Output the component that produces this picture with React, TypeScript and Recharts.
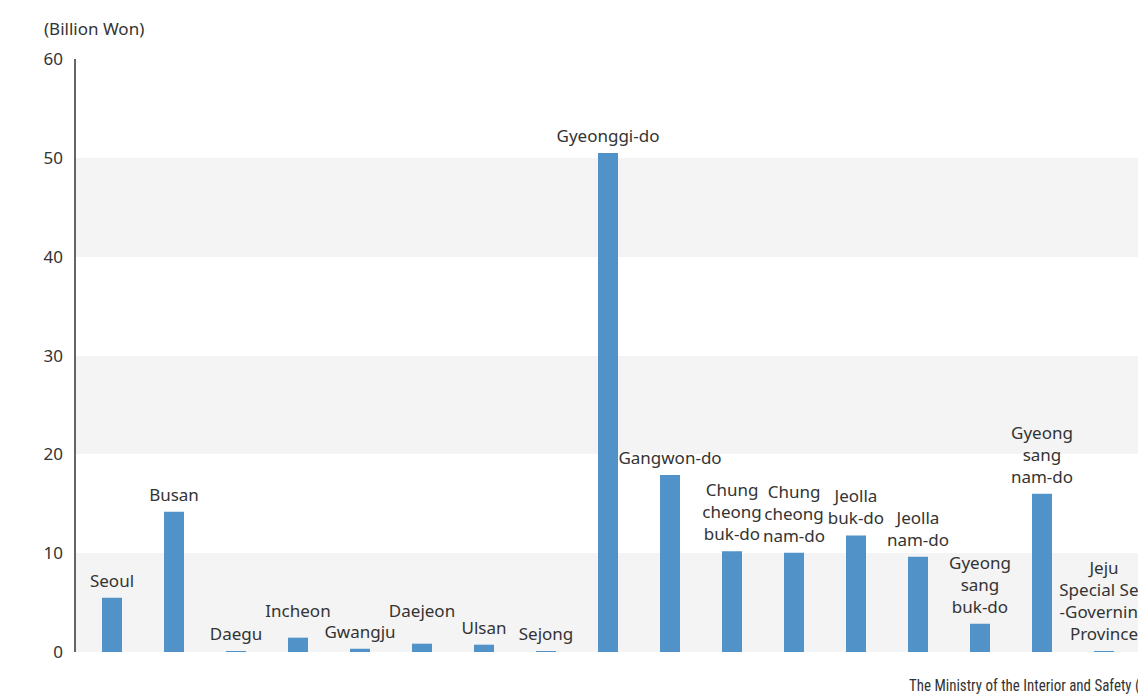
import React from 'react';
import { BarChart, Bar, XAxis, YAxis, CartesianGrid, LabelList } from 'recharts';

const categories = [
  'Seoul', 'Busan', 'Daegu', 'Incheon', 'Gwangju', 'Daejeon', 'Ulsan', 'Sejong',
  'Gyeonggi-do', 'Gangwon-do', 'Chungcheongbuk-do', 'Chungcheongnam-do',
  'Jeollabuk-do', 'Jeollanam-do', 'Gyeongsangbuk-do', 'Gyeongsangnam-do', 'Jeju',
];
const values = [5.5, 14.2, 0.1, 1.45, 0.33, 0.84, 0.74, 0.1, 50.5, 17.9, 10.2, 10.05, 11.8, 9.65, 2.86, 16.0, 0.1];
const labelLines: string[][] = [
  ['Seoul'], ['Busan'], ['Daegu'], ['Incheon'], ['Gwangju'], ['Daejeon'], ['Ulsan'], ['Sejong'],
  ['Gyeonggi-do'], ['Gangwon-do'], ['Chung', 'cheong', 'buk-do'], ['Chung', 'cheong', 'nam-do'],
  ['Jeolla', 'buk-do'], ['Jeolla', 'nam-do'], ['Gyeong', 'sang', 'buk-do'], ['Gyeong', 'sang', 'nam-do'],
  ['Jeju', 'Special Self', '-Governing', 'Province'],
];
const yTicks = [0, 10, 20, 30, 40, 50, 60];
const unitLabel = '(Billion Won)';
const sourceText = 'The Ministry of the Interior and Safety (2018)';

const data = categories.map((c, i) => ({ name: c, value: values[i], idx: i }));

const FONT = '"Noto Sans", "Noto Sans CJK KR", sans-serif';
const extraLift: Record<number, number> = { 3: 10, 5: 16 };

const renderLabel = (props: any) => {
  const { x, y, width, index } = props;
  const lines = labelLines[index] || [];
  const cx = Number(x) + Number(width) / 2;
  const base = Number(y) - 11 - (extraLift[index] || 0);
  const n = lines.length;
  return (
    <g>
      {lines.map((l, k) => (
        <text key={k} x={cx} y={base - (n - 1 - k) * 22} textAnchor="middle"
          fontSize={17} fontFamily={FONT} fill="#333">{l}</text>
      ))}
    </g>
  );
};

export default function App() {
  return (
    <div style={{ position: 'fixed', left: 0, top: 0, width: 1138, height: 698, overflow: 'hidden', background: '#fff' }}>
      <div style={{ position: 'absolute', left: 44, top: 17, fontSize: 17, fontFamily: FONT, color: '#333' }}>{unitLabel}</div>
      <BarChart width={1150} height={698} data={data} margin={{ top: 59, right: 0, bottom: 46, left: 0 }}>
        <CartesianGrid vertical={false} stroke="none" horizontalFill={['#ffffff', '#f4f4f4']} fillOpacity={1} />
        <XAxis dataKey="name" tick={false} tickLine={false} height={0} axisLine={{ stroke: '#333', strokeWidth: 1.5 }}
          padding={{ left: 6, right: 15 }} />
        <YAxis domain={[0, 60]} ticks={yTicks} width={75} tickLine={false} tickSize={0} tickMargin={12}
          axisLine={{ stroke: '#333', strokeWidth: 1.5 }}
          tick={{ fontSize: 17, fontFamily: FONT, fill: '#333' }} interval={0} />
        <Bar dataKey="value" fill="#5192c9" barSize={20} isAnimationActive={false}>
          <LabelList dataKey="name" content={renderLabel} />
        </Bar>
      </BarChart>
      <div style={{ position: 'absolute', left: 909, top: 675, fontSize: 17, fontFamily: '"Liberation Sans Narrow", "Roboto Condensed", Roboto, sans-serif', color: '#333', whiteSpace: 'nowrap', transform: 'scaleX(0.88)', transformOrigin: 'left top' }}>{sourceText}</div>
    </div>
  );
}
